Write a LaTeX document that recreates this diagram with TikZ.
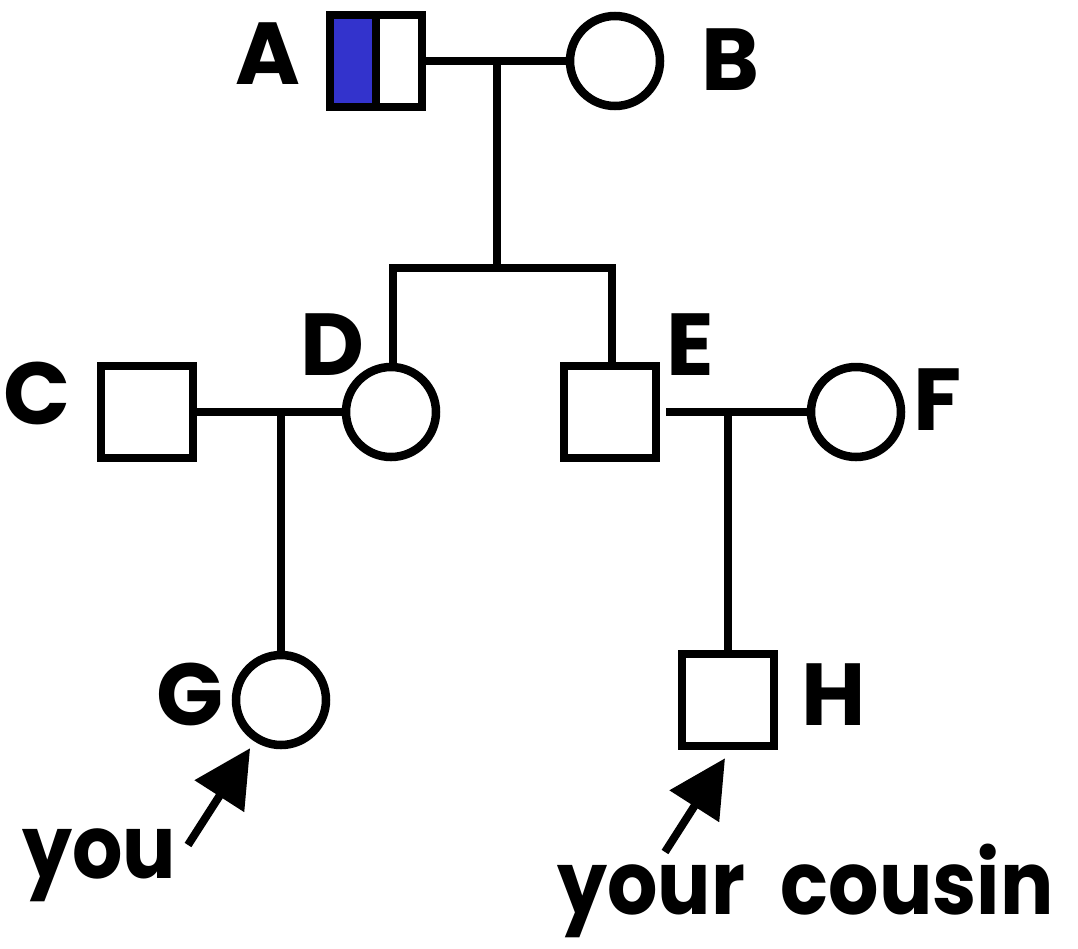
\documentclass[tikz,border=0pt]{standalone}
\usepackage{fontspec}
\newfontfamily\hand{Poppins Bold}
\usetikzlibrary{arrows.meta}
\definecolor{affected}{RGB}{51,51,204}
\begin{document}
\begin{tikzpicture}[x=1pt,y=-1pt,line width=8.5pt,
  male/.style={draw,rectangle,minimum size=92pt,inner sep=0pt},
  female/.style={draw,circle,minimum size=90pt,inner sep=0pt},
  carrier/.style={male,path picture={\fill[affected]
      (path picture bounding box.south west) rectangle (path picture bounding box.north);}},
  lbl/.style={font=\hand\fontsize{88}{88}\selectfont,inner sep=0pt},
  pointer/.style={line width=8pt,-{Triangle[length=57pt,width=57pt]}}]
\useasboundingbox (0,0) rectangle (1078,948);

% generation I
\node[carrier] (A) at (376,61) {};
\node[female]  (B) at (615,61) {};
% generation II
\node[male]   (C) at (147,412) {};
\node[female] (D) at (391,412) {};
\node[male]   (E) at (610,412) {};
\node[female] (F) at (856,412) {};
% generation III
\node[female] (G) at (281,700) {};
\node[male]   (H) at (728,700) {};

% half-filled square divider
\draw (A.north) -- (A.south);

% couples and descent lines
\coordinate (ab) at (497,61);
\coordinate (sib) at (497,268);
\coordinate (cd) at (281,412);
\coordinate (ef) at (728,412);
\draw (A.east) -- (B.west);
\draw (ab) -- (sib);
\draw ([xshift=2pt]D.north) |- (sib) -| ([xshift=2pt]E.north);
\draw (C.east) -- (D.west);
\draw (cd) -- (G.north);
\draw ([xshift=6pt]E.east) -- (F.west);
\draw (ef) -- (H.north);

% labels
\node[lbl] (lA) at (268,54) {A};
\node[lbl] (lB) at (730,60) {B};
\node[lbl] (lC) at (37,393) {C};
\node[lbl] (lD) at (332,345) {D};
\node[lbl] (lE) at (690,345) {E};
\node[lbl] (lF) at (938,400) {F};
\node[lbl] (lG) at (190,694) {G};
\node[lbl] (lH) at (834,695) {H};
\node[lbl,anchor=base west] (you) at (18,878) {\scalebox{0.9}[1]{you}};
\node[lbl,anchor=base west] (cousin) at (553,914)
  {\scalebox{0.9}[1]{your\hspace{40pt}cousin}};

% pointers
\coordinate (youtail) at (188,845);
\coordinate (cousintail) at (665,852);
\draw[pointer,shorten >=8pt] (youtail) -- (G);
\draw[pointer] (cousintail) -- ([shift={(-3,8)}]H.south);
\end{tikzpicture}
\end{document}
